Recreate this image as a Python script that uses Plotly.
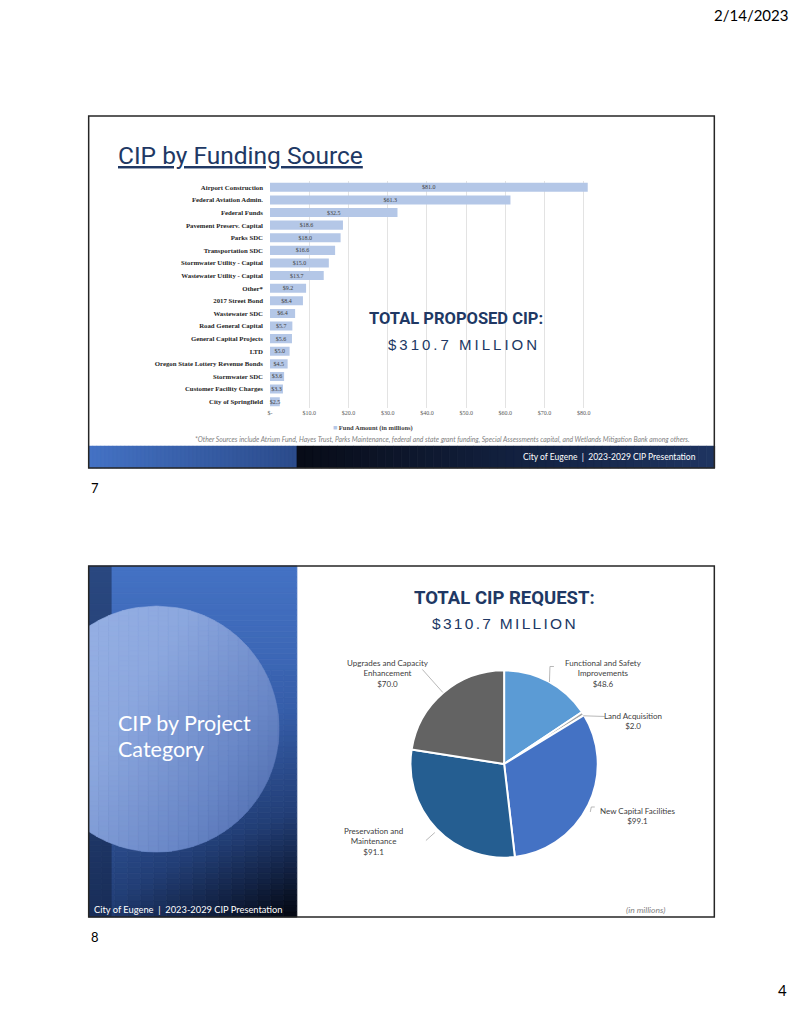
import numpy as np
import plotly.graph_objects as go

W, H = 800, 1035

# ---------------- data ----------------
funding_sources = [
    "Airport Construction", "Federal Aviation Admin.", "Federal Funds",
    "Pavement Preserv. Capital", "Parks SDC", "Transportation SDC",
    "Stormwater Utility - Capital", "Wastewater Utility - Capital", "Other*",
    "2017 Street Bond", "Wastewater SDC", "Road General Capital",
    "General Capital Projects", "LTD", "Oregon State Lottery Revenue Bonds",
    "Stormwater SDC", "Customer Facility Charges", "City of Springfield",
]
funding_amounts = [81.0, 61.3, 32.5, 18.6, 18.0, 16.6, 15.0, 13.7, 9.2,
                   8.4, 6.4, 5.7, 5.6, 5.0, 4.5, 3.6, 3.3, 2.5]
x_tick_values = [0, 10, 20, 30, 40, 50, 60, 70, 80]
x_tick_labels = ["$-", "$10.0", "$20.0", "$30.0", "$40.0", "$50.0",
                 "$60.0", "$70.0", "$80.0"]

project_categories = ["Functional and Safety Improvements", "Land Acquisition",
                      "New Capital Facilities", "Preservation and Maintenance",
                      "Upgrades and Capacity Enhancement"]
project_label_lines = [["Functional and Safety", "Improvements"],
                       ["Land Acquisition"],
                       ["New Capital Facilities"],
                       ["Preservation and", "Maintenance"],
                       ["Upgrades and Capacity", "Enhancement"]]
project_amounts = [48.6, 2.0, 99.1, 91.1, 70.0]
project_colors = ["#5B9BD5", "#A5A5A5", "#4472C4", "#255E91", "#636363"]

total_text = "$310.7 MILLION"
footer_text = "City of Eugene  |  2023-2029 CIP Presentation"
footnote = ("*Other Sources include Atrium Fund, Hayes Trust, Parks Maintenance, federal and state "
            "grant funding, Special Assessments capital, and Wetlands Mitigation Bank among others.")

# ---------------- helpers ----------------
def X(px):
    return px / W

def Y(py):
    return 1 - py / H

def rgb(c):
    return "rgb(%d,%d,%d)" % tuple(int(round(v)) for v in c)

def ramp(stops, t):
    t = min(max(t, 0.0), 1.0)
    for (t0, c0), (t1, c1) in zip(stops[:-1], stops[1:]):
        if t <= t1:
            f = 0 if t1 == t0 else (t - t0) / (t1 - t0)
            return [a + (b - a) * f for a, b in zip(c0, c1)]
    return stops[-1][1]

shapes = []

def rect(x0, y0, x1, y1, fill, line=None, lw=0):
    shapes.append(dict(type="rect", xref="paper", yref="paper",
                       x0=X(x0), x1=X(x1), y0=Y(y1), y1=Y(y0),
                       fillcolor=fill, line=dict(color=line or fill, width=lw),
                       layer="above"))

def poly(points, fill, lw=0.6):
    if len(points) < 3:
        return
    p = "M " + " L ".join("%.5f,%.5f" % (X(a), Y(b)) for a, b in points) + " Z"
    shapes.append(dict(type="path", xref="paper", yref="paper", path=p,
                       fillcolor=fill, line=dict(color=fill, width=lw), layer="above"))

def clip_x(points, xv, keep_greater):
    out = []
    n = len(points)
    for i in range(n):
        a = points[i]
        b = points[(i + 1) % n]
        ina = a[0] >= xv if keep_greater else a[0] <= xv
        inb = b[0] >= xv if keep_greater else b[0] <= xv
        if ina:
            out.append(a)
        if ina != inb:
            f = (xv - a[0]) / (b[0] - a[0])
            out.append((xv, a[1] + f * (b[1] - a[1])))
    return out

# ---------------- slide 1 footer band ----------------
n = 52
L0, L1, R1 = 86, 295, 714
for i in range(n):
    xa = L0 + (L1 - L0) * i / n
    xb = L0 + (L1 - L0) * (i + 1) / n
    c = ramp([(0, (68, 114, 196)), (1, (44, 76, 140))], i / (n - 1))
    rect(xa, 446, xb + 0.4, 468, rgb(c), lw=0.5)
for i in range(n):
    xa = L1 + (R1 - L1) * i / n
    xb = L1 + (R1 - L1) * (i + 1) / n
    c = ramp([(0, (8, 12, 24)), (0.5, (18, 32, 62)), (1, (30, 52, 96))], i / (n - 1))
    rect(xa, 446, xb + 0.4, 468, rgb(c), lw=0.5)

# ---------------- slide 2 left panel gradient ----------------
PX0, PX1, PY0, PY1 = 86, 295, 566, 917
bg_stops = [(0, (68, 114, 196)), (0.4, (54, 94, 170)), (0.7, (34, 62, 118)),
            (0.85, (18, 34, 68)), (1.0, (3, 6, 14))]
nc, nr = 16, 64
for j in range(nr):
    ya = PY0 + (PY1 - PY0) * j / nr
    yb = PY0 + (PY1 - PY0) * (j + 1) / nr
    v = (j + 0.5) / nr
    cols = nc if v > 0.3 else 1
    for i in range(cols):
        xa = PX0 + (PX1 - PX0) * i / cols
        xb = PX0 + (PX1 - PX0) * (i + 1) / cols
        u = (i + 0.5) / cols
        t = v * (0.7 + 0.3 * u)
        rect(xa, ya, xb, yb, rgb(ramp(bg_stops, t)), lw=0.8)
# darker left strip
rect(86, 566, 109, 917, "rgba(15,30,60,0.5)", line="rgba(0,0,0,0)", lw=0)

# translucent big circle (clipped to the panel)
ccx, ccy, cr = 154, 729, 123
circ_stops = [(0, (150, 176, 228)), (0.3, (140, 167, 222)), (0.7, (104, 134, 198)),
              (1.0, (72, 100, 166))]
band = 5
col = 10
yb_list = np.arange(ccy - cr, ccy + cr + 0.01, band)
for y0 in yb_list:
    y1 = min(y0 + band, ccy + cr)
    if y1 - y0 < 0.2:
        continue
    ys = np.linspace(y0, y1, 4)
    dx = np.sqrt(np.clip(cr ** 2 - (ys - ccy) ** 2, 0, None))
    right = [(ccx + d, yy) for d, yy in zip(dx, ys)]
    left = [(ccx - d, yy) for d, yy in zip(dx[::-1], ys[::-1])]
    bandpoly = clip_x(right + left, 86, True)
    xs = np.arange(86, ccx + cr + col, col)
    for xa in xs:
        xb = xa + col
        cell = clip_x(bandpoly, xa, True)
        if len(cell) < 3:
            continue
        cell = clip_x(cell, xb, False)
        if len(cell) < 3:
            continue
        u = ((xa + xb) / 2 - 86) / (ccx + cr - 86)
        v = ((y0 + y1) / 2 - (ccy - cr)) / (2 * cr)
        t = 0.55 * u + 0.45 * v
        poly(cell, rgb(ramp(circ_stops, t)))

# slide borders
for (y0, y1) in [(116, 468), (566, 917)]:
    shapes.append(dict(type="rect", xref="paper", yref="paper",
                       x0=X(86), x1=X(714), y0=Y(y1), y1=Y(y0),
                       fillcolor="rgba(0,0,0,0)", line=dict(color="#262626", width=1.5),
                       layer="above"))

# pie leader lines
leader_paths = [
    [(553, 666.5), (549, 666.5), (548.5, 682)],
    [(582.5, 715.8), (604, 716.5)],
    [(594, 807), (590.5, 807), (589.5, 812)],
    [(424.5, 840.5), (433.5, 832.5)],
    [(421, 669.5), (441.5, 692.5)],
]
for pts in leader_paths:
    p = "M " + " L ".join("%.5f,%.5f" % (X(a), Y(b)) for a, b in pts)
    shapes.append(dict(type="path", xref="paper", yref="paper", path=p,
                       line=dict(color="#A6A6A6", width=0.8), layer="above"))

# ---------------- traces ----------------
serif = "Liberation Serif, DejaVu Serif, serif"
sans = "Lato, Open Sans, sans-serif"
narrow = "Liberation Sans Narrow, Roboto, Liberation Sans, sans-serif"
navy = "#203864"

fig = go.Figure()
fig.add_trace(go.Bar(
    y=funding_sources, x=funding_amounts, orientation="h",
    marker=dict(color="#B4C7E7", line=dict(width=0)),
    text=["$%.1f" % v for v in funding_amounts],
    textposition="inside", insidetextanchor="middle", textangle=0,
    constraintext="none",
    textfont=dict(family=serif, size=6, color="#404040"),
    hoverinfo="skip", showlegend=False, cliponaxis=False,
))

fig.add_trace(go.Pie(
    labels=project_categories, values=project_amounts,
    marker=dict(colors=project_colors, line=dict(color="white", width=2)),
    sort=False, direction="clockwise", rotation=0,
    textinfo="none", hoverinfo="skip", showlegend=False,
    domain=dict(x=[X(409), X(597)], y=[Y(858), Y(670)]),
))

# ---------------- annotations ----------------
ann = []

def text(x, y, s, size, color="#000", family=sans, xanchor="center", yanchor="middle",
         align="center"):
    ann.append(dict(x=X(x), y=Y(y), xref="paper", yref="paper", text=s, showarrow=False,
                    font=dict(size=size, color=color, family=family),
                    xanchor=xanchor, yanchor=yanchor, align=align))

text(790, 15, "2/14/2023", 15, "#000", sans, xanchor="right")
text(86, 488, "7", 13, "#000", sans, xanchor="left")
text(86, 937, "8", 13, "#000", sans, xanchor="left")
text(789, 990, "4", 15, "#000", sans, xanchor="right")

# slide 1
text(113, 155, "<u>CIP by Funding Source</u>", 24.5, navy, narrow, xanchor="left")
text(455, 319, "<b>TOTAL PROPOSED CIP:</b>", 16.5, navy, narrow)
text(463, 345, '<span style="letter-spacing:3px">%s</span>' % total_text, 15, navy,
     "Liberation Sans, Arial, sans-serif")
text(371, 428, '<span style="color:#B4C7E7;font-size:7px">■</span> <b>Fund Amount (in millions)</b>',
     6.5, "#404040", serif)
text(441, 439.5, "<i>%s</i>" % footnote, 6.8, "#7F7F7F", sans)
text(698, 457, footer_text, 8.5, "white", sans, xanchor="right")

# slide 2
text(503, 598, "<b>TOTAL CIP REQUEST:</b>", 18.5, navy, narrow)
text(504, 623, '<span style="letter-spacing:2.3px">%s</span>' % total_text, 15.5, navy,
     "Liberation Sans, Arial, sans-serif")
text(113, 723, "CIP by Project", 21.5, "white", sans, xanchor="left")
text(113, 749, "Category", 21.5, "white", sans, xanchor="left")
text(89, 909, footer_text, 9.3, "white", sans, xanchor="left")
text(645, 910, "<i>(in millions)</i>", 8.5, "#7F7F7F", sans)

label_pos = [(603, 673), (632, 720.5), (637, 815.5), (372, 841), (386, 673)]
for lines, v, (lx, ly) in zip(project_label_lines, project_amounts, label_pos):
    s = "<br>".join(lines + ["$%.1f" % v])
    text(lx, ly, s, 8, "#404040", sans)

fig.update_layout(
    width=W, height=H, margin=dict(l=0, r=0, t=0, b=0),
    paper_bgcolor="white", plot_bgcolor="rgba(0,0,0,0)",
    bargap=0.28,
    xaxis=dict(domain=[X(268), X(268 + 82 * 3.9375)], range=[0, 82],
               tickvals=x_tick_values, ticktext=x_tick_labels,
               showgrid=True, gridcolor="#D9D9D9", gridwidth=0.75,
               zeroline=False, showline=False, ticks="",
               tickfont=dict(family=serif, size=6, color="#595959"),
               fixedrange=True),
    yaxis=dict(domain=[Y(408), Y(181)], autorange="reversed",
               showgrid=False, zeroline=False, showline=False, ticks="",
               ticklabelstandoff=6,
               tickfont=dict(family=serif, size=6.8, color="#262626", weight="bold"),
               fixedrange=True),
    shapes=shapes, annotations=ann,
)

fig.write_html("out.html", config={"displayModeBar": False, "staticPlot": True},
               post_script="document.body.style.margin='0';document.body.style.overflow='hidden';")
